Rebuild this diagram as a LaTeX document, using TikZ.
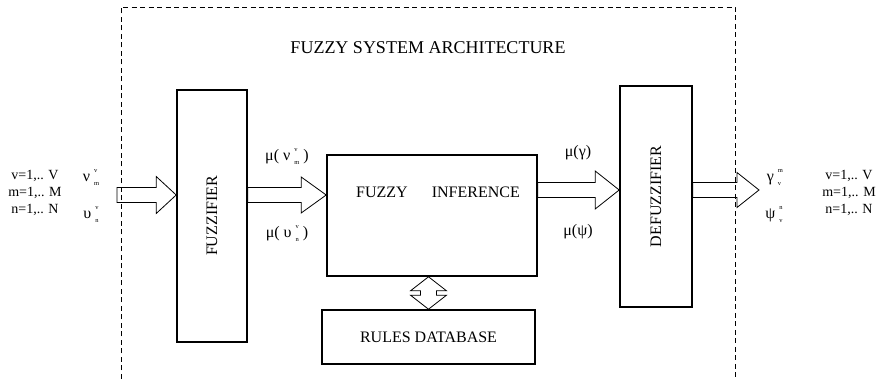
\documentclass[tikz,border=0pt]{standalone}
\usepackage{fontspec}
\usepackage{graphicx}
\setmainfont{Liberation Serif}
\usetikzlibrary{calc}

% symbol with a small raised and a small lowered index
\newcommand{\idx}[3]{#1\hspace{4pt}\rlap{\raisebox{9pt}{\fontsize{6.5}{7}\selectfont #2}}\raisebox{-4pt}{\fontsize{6.5}{7}\selectfont #3}}

\begin{document}
\begin{tikzpicture}[x=1pt,y=-1pt,
 box/.style={draw,line width=1.6pt,inner sep=0pt,font=\fontsize{16}{19}\selectfont},
 fat/.style={draw,line width=0.8pt,line join=miter},
 lbl/.style={inner sep=0pt,font=\fontsize{16}{19}\selectfont},
 vars/.style={inner sep=0pt,align=center,font=\fontsize{14}{17}\selectfont}]
\useasboundingbox (0,0) rectangle (884,379);

% dashed frame, open at the bottom
\draw[line width=0.8pt,dash pattern=on 5pt off 3.5pt] (121,379) -- (121,7) -- (735,7) -- (735,379);
\node[inner sep=0pt,font=\fontsize{18}{20}\selectfont] (title) at (428,48) {FUZZY SYSTEM ARCHITECTURE};

% blocks
\node[box,minimum width=70,minimum height=252] (fuzz) at (212,216) {\rotatebox{90}{FUZZIFIER}};
\node[box,minimum width=210,minimum height=121] (infer) at (432,215.5) {};
\node[lbl] (infertxt) at (438,192) {FUZZY\hspace{24pt}INFERENCE};
\node[box,minimum width=72,minimum height=221] (defuzz) at (656,196.5) {\rotatebox{90}{DEFUZZIFIER}};
\node[box,minimum width=213,minimum height=54] (rules) at (428.5,337) {RULES DATABASE};

% free ends of the outer arrows
\coordinate (fin) at (117,195);
\coordinate (fout) at (759,190);

% block arrows
\draw[fat] let \p1=(fin), \p2=(fuzz.west |- fin) in
 (\x1,\y2+7.5) -- (\x2-20,\y2+7.5) -- (\x2-20,\y2+18.5) -- (\p2)
 -- (\x2-20,\y2-18.5) -- (\x2-20,\y2-7.5) -- (\x1,\y2-7.5) -- cycle;
\draw[fat] let \p1=(fuzz.east |- fin), \p2=(infer.west |- fin) in
 (\x1,\y2+7.5) -- (\x2-25,\y2+7.5) -- (\x2-25,\y2+18) -- (\p2)
 -- (\x2-25,\y2-18) -- (\x2-25,\y2-7.5) -- (\x1,\y2-7.5) -- cycle;
\draw[fat] let \p1=(infer.east |- fout), \p2=(defuzz.west |- fout) in
 (\x1,\y2+7.5) -- (\x2-24,\y2+7.5) -- (\x2-24,\y2+19) -- (\p2)
 -- (\x2-24,\y2-19) -- (\x2-24,\y2-7.5) -- (\x1,\y2-7.5) -- cycle;
\draw[fat] let \p1=(defuzz.east |- fout), \p2=(fout) in
 (\x1,\y2+7.5) -- (\x2-22,\y2+7.5) -- (\x2-22,\y2+17.5) -- (\p2)
 -- (\x2-22,\y2-17.5) -- (\x2-22,\y2-7.5) -- (\x1,\y2-7.5) -- cycle;
% two-way arrow to the rule base
\draw[fat] let \p1=(rules.north |- infer.south), \p2=(rules.north) in
 (\p1) -- (\x1+18,\y1-14) -- (\x1+8,\y1-14) -- (\x1+8,\y2+14) -- (\x1+18,\y2+14)
 -- (\p2) -- (\x1-18,\y2+14) -- (\x1-8,\y2+14) -- (\x1-8,\y1-14) -- (\x1-18,\y1-14) -- cycle;

% inputs
\node[vars] (invars) at (35,193) {v=1,.. V\\m=1,.. M\\n=1,.. N};
\node[lbl] (nuin) at (91,178) {\idx{ν}{v}{m}};
\node[lbl] (upsin) at (91,215) {\idx{υ}{v}{n}};

% membership degrees
\node[lbl] (munu) at (287,157) {μ( \idx{ν}{v}{m} )};
\node[lbl] (muups) at (287,234) {μ( \idx{υ}{v}{n} )};
\node[lbl] (mugam) at (578,153) {μ(γ)};
\node[lbl] (mupsi) at (578,232) {μ(ψ)};

% outputs
\node[lbl] (gamout) at (774,178) {\idx{γ}{m}{v}};
\node[lbl] (psiout) at (774,215) {\idx{ψ}{n}{v}};
\node[vars] (outvars) at (849,193) {v=1,.. V\\m=1,.. M\\n=1,.. N};
\end{tikzpicture}
\end{document}
